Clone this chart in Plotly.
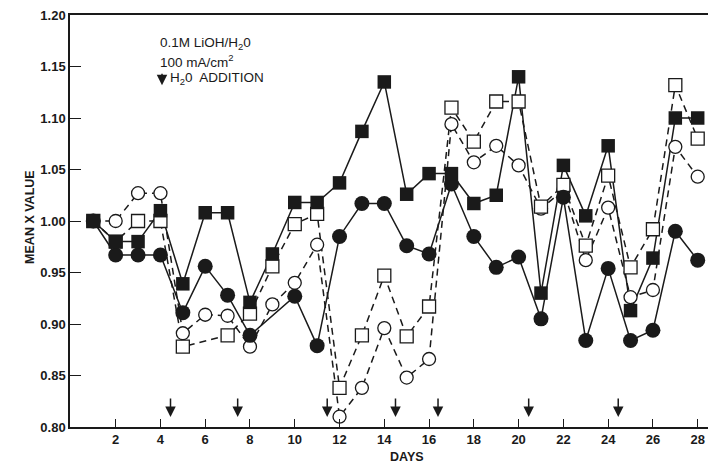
import plotly.graph_objects as go

days = list(range(1, 29))

# filled circles (solid line)
filled_circles = [1.000, 0.967, 0.967, 0.967, 0.911, 0.956, 0.928, 0.889, None, 0.927,
                  0.879, 0.985, 1.017, 1.017, 0.976, 0.968, 1.036, 0.985, 0.955, 0.965,
                  0.905, 1.023, 0.884, 0.954, 0.884, 0.894, 0.990, 0.962]
# filled squares (solid line)
filled_squares = [1.000, 0.980, 0.980, 1.010, 0.939, 1.008, 1.008, 0.921, 0.968, 1.018,
                  1.018, 1.037, 1.087, 1.135, 1.026, 1.046, 1.046, 1.017, 1.025, 1.140,
                  0.930, 1.054, 1.005, 1.073, 0.913, 0.964, 1.100, 1.100]
# open circles (dashed line)
open_circles = [1.000, 1.000, 1.027, 1.027, 0.891, 0.909, 0.908, 0.878, 0.919, 0.940,
                0.977, 0.810, 0.838, 0.896, 0.848, 0.866, 1.094, 1.057, 1.073, 1.054,
                1.012, 1.030, 0.962, 1.013, 0.926, 0.933, 1.072, 1.043]
# open squares (dashed line)
open_squares = [1.000, 0.980, 1.000, 1.000, 0.878, None, 0.889, 0.910, 0.956, 0.997,
                1.007, 0.838, 0.889, 0.947, 0.888, 0.917, 1.110, 1.077, 1.116, 1.116,
                1.014, 1.035, 0.976, 1.044, 0.955, 0.992, 1.132, 1.080]

water_addition_days = [4.45, 7.45, 11.45, 14.5, 16.4, 20.45, 24.45]

x_ticks = list(range(2, 29, 2))
y_ticks = [0.80, 0.85, 0.90, 0.95, 1.00, 1.05, 1.10, 1.15, 1.20]
y_tick_text = ["0.80", "0.85", "0.90", "0.95", "1.00", "1.05", "1.10", "1.15", "1.20"]

legend_lines = ["0.1M LiOH/H<sub>2</sub>0", "100 mA/cm<sup>2</sup>", "H<sub>2</sub>0  ADDITION"]

INK = "#1a1a1a"
FONT = "Liberation Sans"

fig = go.Figure()

series = [
    (open_circles, "circle", "dash"),
    (open_squares, "square", "dash"),
    (filled_circles, "circle", "solid"),
    (filled_squares, "square", "solid"),
]

# lines first
for vals, sym, dash in series:
    fig.add_trace(go.Scatter(
        x=days, y=vals, mode="lines", connectgaps=True, showlegend=False,
        line=dict(color=INK, width=1.5, dash="7px,5px" if dash == "dash" else "solid"),
        hoverinfo="skip"))

# markers on top
for vals, sym, dash in series:
    filled = dash == "solid"
    size = (15 if sym == "circle" else 13.5) if filled else 13
    fig.add_trace(go.Scatter(
        x=days, y=vals, mode="markers", showlegend=False,
        marker=dict(symbol=sym, size=size,
                    color=INK if filled else "white",
                    line=dict(color=INK, width=0 if filled else 1.3))))

# water addition arrows
for d in water_addition_days:
    fig.add_annotation(x=d, y=0.8097, xref="x", yref="y", text="", showarrow=True,
                       ax=0, ay=-20, arrowhead=2, arrowsize=1.4, arrowwidth=1.5,
                       arrowcolor=INK)

# legend text
legend_font = dict(family=FONT, size=13.5, color=INK)
fig.add_annotation(x=3.89, y=1.1725, xref="x", yref="y", text=legend_lines[0],
                   showarrow=False, xanchor="left", yanchor="middle", font=legend_font)
fig.add_annotation(x=3.89, y=1.155, xref="x", yref="y", text=legend_lines[1],
                   showarrow=False, xanchor="left", yanchor="middle", font=legend_font)
fig.add_annotation(x=4.33, y=1.138, xref="x", yref="y", text=legend_lines[2],
                   showarrow=False, xanchor="left", yanchor="middle", font=legend_font)
fig.add_annotation(x=4.07, y=1.1317, xref="x", yref="y", text="", showarrow=True,
                   ax=0, ay=-13, arrowhead=2, arrowsize=1.4, arrowwidth=1.5,
                   arrowcolor=INK)

# axis titles
fig.add_annotation(x=(406.7 - 70) / 638, y=-0.073, xref="paper", yref="paper",
                   text="DAYS", showarrow=False, xanchor="center", yanchor="middle",
                   font=dict(family=FONT, size=12.5, color=INK, weight="bold"))
fig.add_annotation(x=(30 - 70) / 638, y=0.51, xref="paper", yref="paper",
                   text="MEAN X VALUE", showarrow=False, textangle=-90,
                   xanchor="center", yanchor="middle",
                   font=dict(family=FONT, size=12.5, color=INK, weight="bold"))

fig.update_xaxes(range=[-0.04, 28.46], tickvals=x_ticks, ticks="inside", ticklen=8,
                 tickwidth=1.3, tickcolor=INK, showline=True, linecolor=INK, linewidth=1.5,
                 mirror=True, showgrid=False, zeroline=False,
                 tickfont=dict(family=FONT, size=13, color=INK, weight="bold"))
fig.update_yaxes(range=[0.80, 1.20], tickvals=y_ticks, ticktext=y_tick_text,
                 ticks="inside", ticklen=11, tickwidth=1.3, tickcolor=INK,
                 showline=True, linecolor=INK, linewidth=1.5, showgrid=False,
                 zeroline=False,
                 tickfont=dict(family=FONT, size=13, color=INK, weight="bold"))

fig.update_layout(width=710, height=466, margin=dict(l=70, r=2, t=15, b=39),
                  plot_bgcolor="white", paper_bgcolor="white", showlegend=False)

fig.write_html("out.html", config={"displayModeBar": False},
               post_script="document.body.style.margin='0';document.body.style.overflow='hidden';")
